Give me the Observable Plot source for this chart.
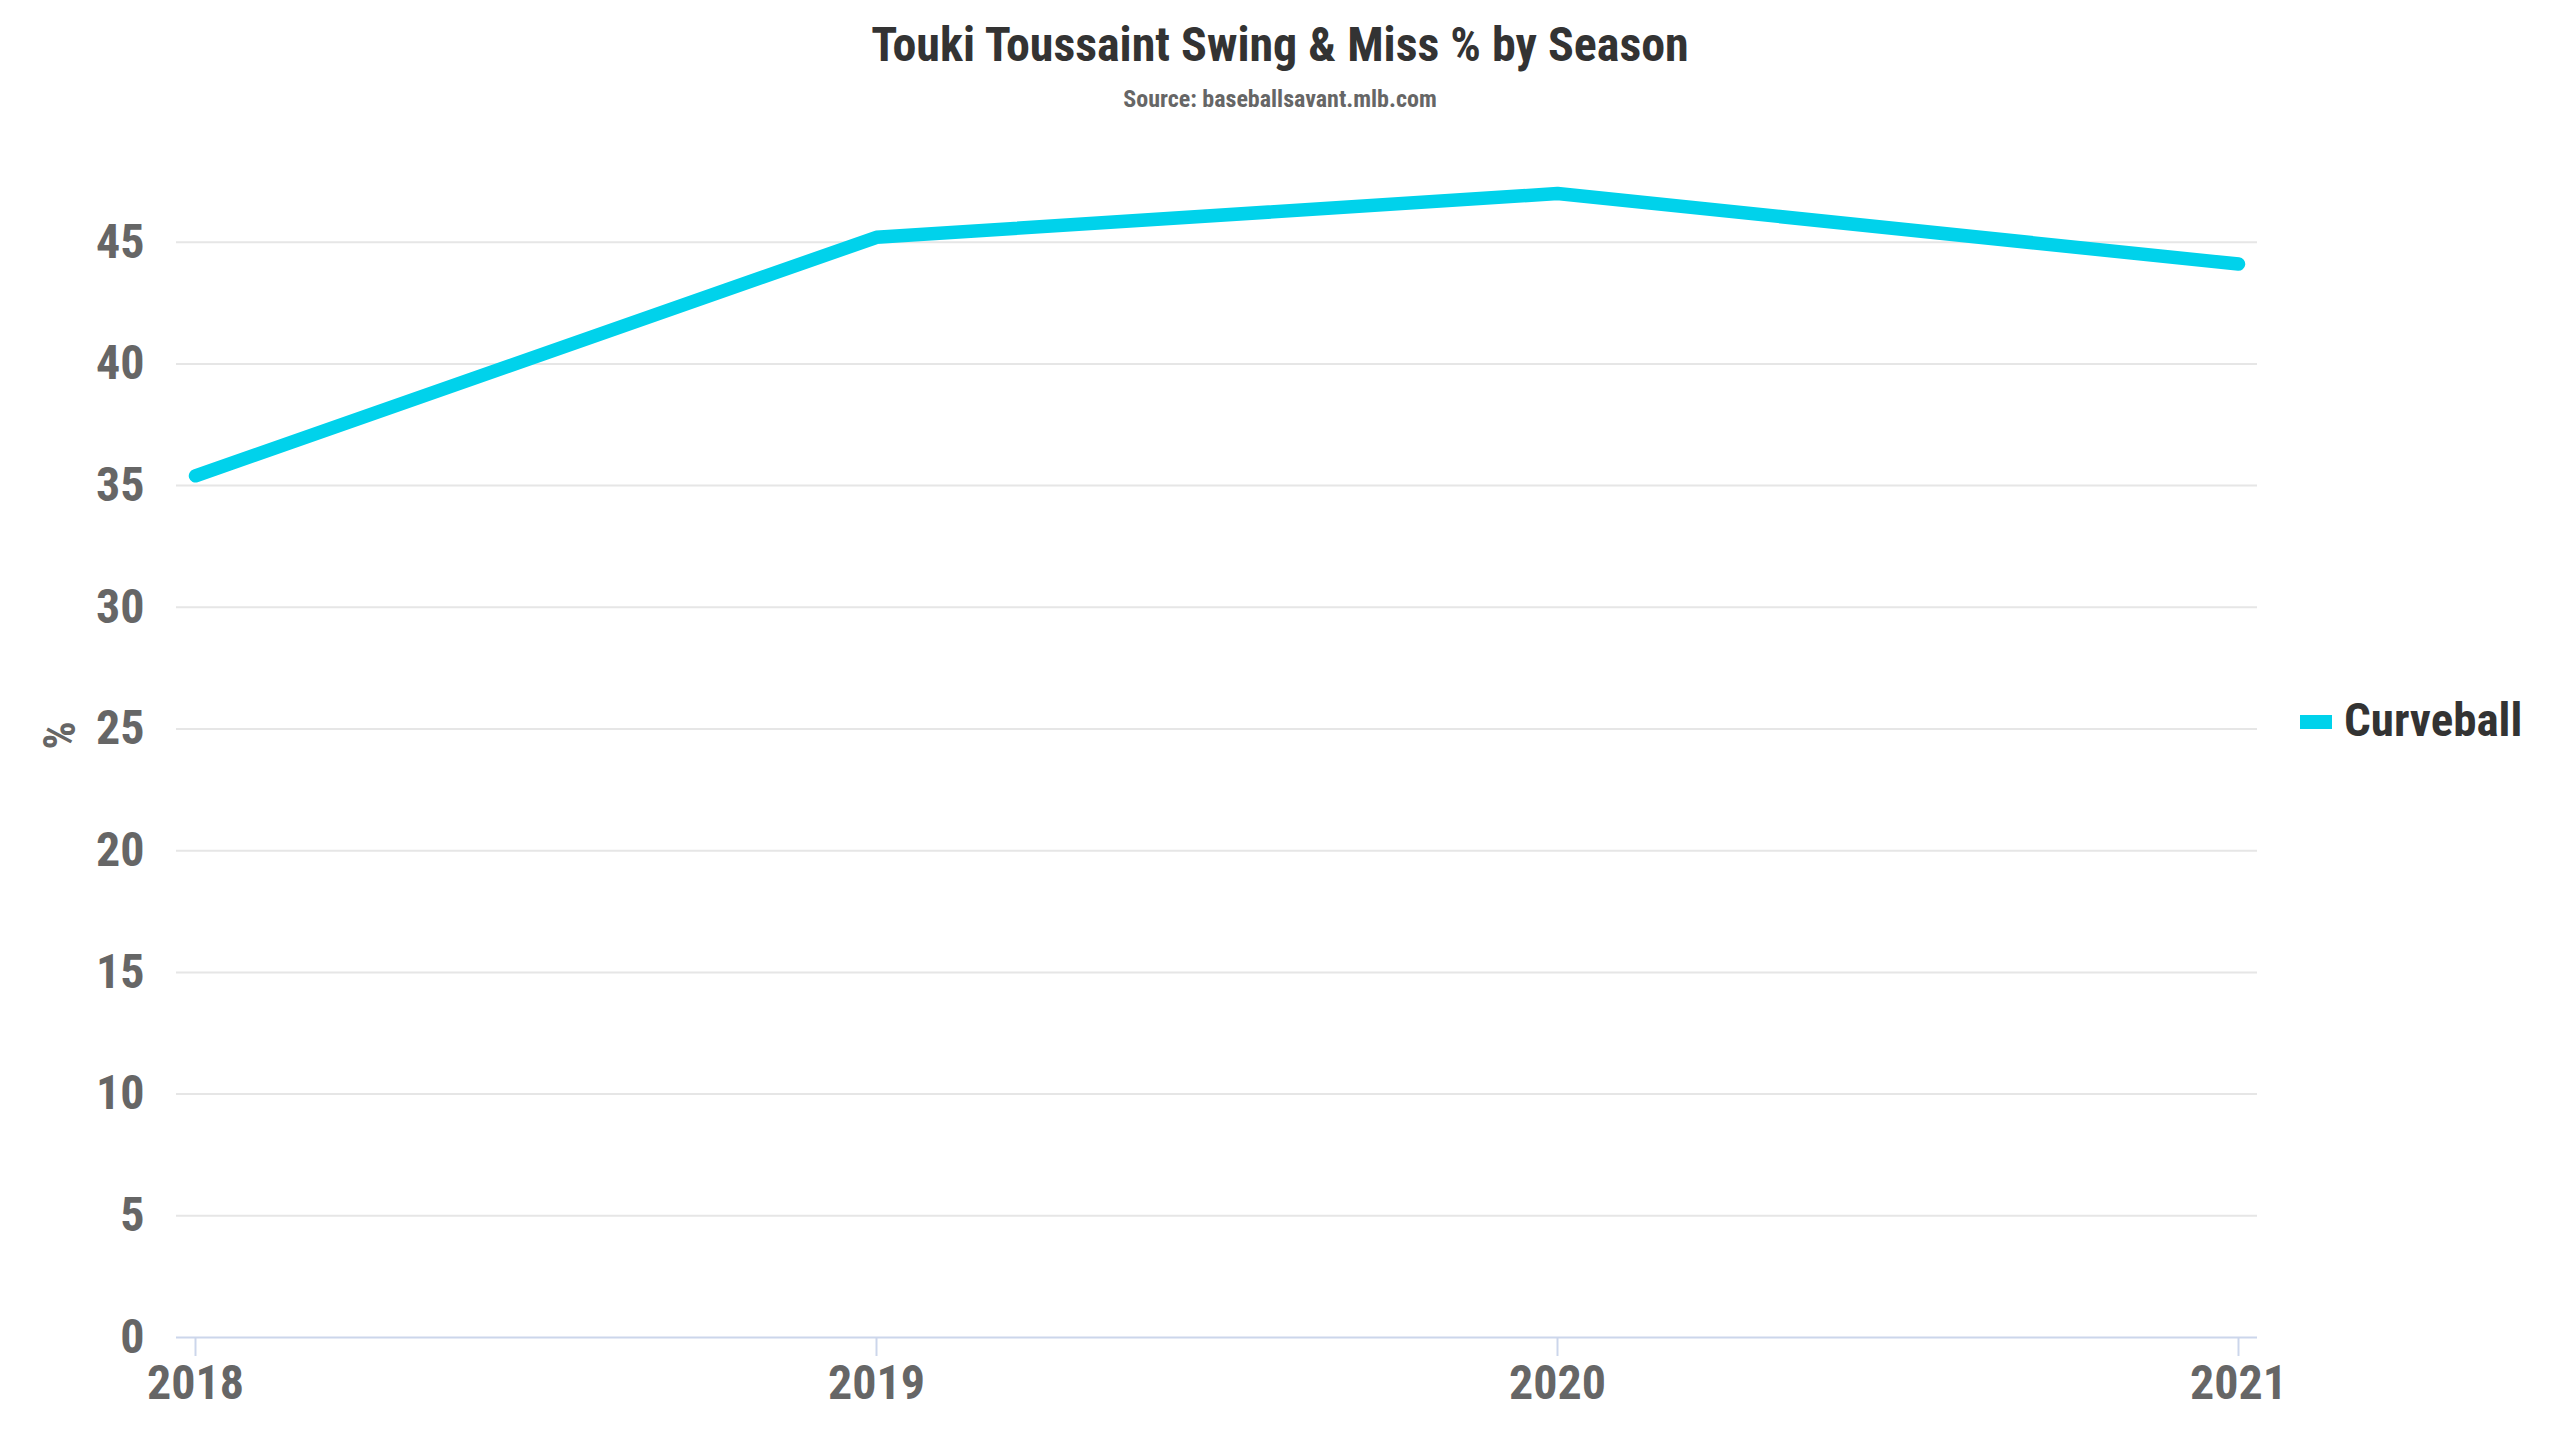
<!DOCTYPE html>
<html>
<head>
<meta charset="utf-8">
<script src="https://cdn.jsdelivr.net/npm/d3@7"></script>
<script src="https://cdn.jsdelivr.net/npm/@observablehq/plot@0.6"></script>
<style>
  html, body { margin: 0; padding: 0; background: #fff; }
  body { width: 2560px; height: 1440px; position: relative; overflow: hidden;
         font-family: "Roboto Condensed", "Roboto", sans-serif; }
  .title { position: absolute; left: 0; width: 2560px; top: 21px; text-align: center;
           font-size: 48px; line-height: 48px; font-weight: 700; color: #333; }
  .subtitle { position: absolute; left: 0; width: 2560px; top: 87px; text-align: center;
              font-size: 24px; line-height: 24px; font-weight: 700; color: #666; }
  #chart { position: absolute; left: 0; top: 130px; }
  .legend { position: absolute; left: 2300px; top: 696px; display: flex; align-items: center;
            font-size: 47px; line-height: 47px; font-weight: 700; color: #333; }
  .legend .sw { width: 32px; height: 14px; margin-right: 12px; margin-top: 4px; }
</style>
</head>
<body>
<div class="title" id="title"></div>
<div class="subtitle" id="subtitle"></div>
<div id="chart"></div>
<div class="legend" id="legend"></div>
<script>
const titleText = "Touki Toussaint Swing & Miss % by Season";
const subtitleText = "Source: baseballsavant.mlb.com";
const seasons = [2018, 2019, 2020, 2021];
const seriesName = "Curveball";
const curveball = [35.4, 45.2, 47.0, 44.1];
const yTicks = [0, 5, 10, 15, 20, 25, 30, 35, 40, 45];
const yLabel = "%";
const lineColor = "#00d2eb";

document.getElementById("title").textContent = titleText;
document.getElementById("subtitle").textContent = subtitleText;

const data = seasons.map((s, i) => ({season: s, value: curveball[i]}));

const W = 2560, H = 1310;
const plot = Plot.plot({
  width: W,
  height: H,
  marginLeft: 176,
  marginRight: 303,
  marginTop: 63,
  marginBottom: 103,
  style: {fontFamily: '"Roboto Condensed", "Roboto", sans-serif', background: "transparent"},
  x: {type: "linear", domain: [seasons[0], seasons[seasons.length - 1]], inset: 19},
  y: {domain: [0, d3.max(curveball)]},
  marks: [
    Plot.ruleY(yTicks.filter(d => d > 0), {stroke: "#e6e6e6", strokeWidth: 2}),
    Plot.ruleY([0], {stroke: "#ccd6eb", strokeWidth: 2}),
    Plot.axisY({ticks: yTicks, tickSize: 0, tickPadding: 32, tickFormat: d => String(d),
                fontSize: 48, fontWeight: 700, fill: "#666", label: null}),
    Plot.axisX({ticks: seasons, tickFormat: d => String(d), tickSize: 19, tickPadding: 8,
                stroke: "#ccd6eb", strokeWidth: 2, fontSize: 48, fontWeight: 700, fill: "#666", label: null}),
    Plot.text([yLabel], {frameAnchor: "left", dx: -116, dy: -16, rotate: -90, fontSize: 44, fontWeight: 700, fill: "#666"}),
    Plot.line(data, {x: "season", y: "value", stroke: lineColor, strokeWidth: 13.5,
                     strokeLinecap: "round", strokeLinejoin: "round"})
  ]
});
document.getElementById("chart").appendChild(plot);

const lg = document.getElementById("legend");
const sw = document.createElement("div");
sw.className = "sw";
sw.style.background = lineColor;
const lt = document.createElement("span");
lt.textContent = seriesName;
lg.appendChild(sw);
lg.appendChild(lt);
</script>
</body>
</html>
